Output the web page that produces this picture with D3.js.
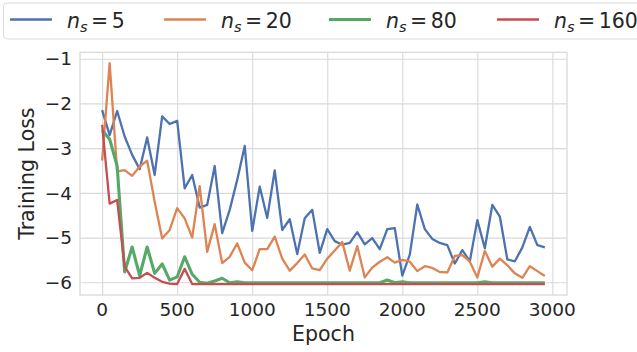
<!DOCTYPE html>
<html>
<head>
<meta charset="utf-8">
<script src="https://cdn.jsdelivr.net/npm/d3@7"></script>
<style>
  body { margin: 0; background: #fff; }
  svg { display: block; font-family: "DejaVu Sans", sans-serif; }
</style>
</head>
<body>
<div id="chart"></div>
<script>
// epochs sampled every 50
var epochs = [0,50,100,150,200,250,300,350,400,450,500,550,600,650,700,750,800,850,900,950,
  1000,1050,1100,1150,1200,1250,1300,1350,1400,1450,1500,1550,1600,1650,1700,1750,1800,1850,1900,1950,
  2000,2050,2100,2150,2200,2250,2300,2350,2400,2450,2500,2550,2600,2650,2700,2750,2800,2850,2900,2950];

var loss_ns5 = [-2.15,-2.71,-2.17,-2.74,-3.15,-3.47,-2.76,-3.60,-2.29,-2.46,
  -2.39,-3.90,-3.60,-4.33,-4.27,-3.40,-4.90,-4.38,-3.71,-2.95,
  -4.85,-3.86,-4.56,-3.50,-4.83,-4.59,-5.37,-4.57,-4.38,-5.34,
  -4.81,-5.08,-5.16,-5.12,-4.88,-5.15,-5.01,-5.26,-4.81,-4.79,
  -5.85,-5.38,-4.26,-4.81,-5.03,-5.12,-5.17,-5.58,-5.28,-5.53,
  -4.61,-5.24,-4.27,-4.53,-5.49,-5.53,-5.22,-4.76,-5.17,-5.22];

var loss_ns20 = [-3.28,-1.10,-3.52,-3.49,-3.62,-3.41,-3.28,-4.20,-5.02,-4.83,
  -4.34,-4.57,-5.00,-3.85,-5.32,-4.70,-5.57,-5.43,-5.13,-5.56,
  -5.73,-5.26,-5.26,-4.98,-5.47,-5.74,-5.57,-5.38,-5.69,-5.73,
  -5.47,-5.29,-5.10,-5.74,-5.19,-5.89,-5.67,-5.54,-5.44,-5.56,
  -5.50,-5.54,-5.75,-5.64,-5.68,-5.77,-5.78,-5.41,-5.39,-5.54,
  -5.89,-5.30,-5.65,-5.47,-5.62,-5.80,-5.90,-5.64,-5.75,-5.86];

var loss_ns80 = [-2.60,-2.80,-3.40,-5.77,-5.21,-5.85,-5.21,-5.80,-5.59,-5.95,
  -5.88,-5.43,-5.82,-6.00,-6.02,-5.97,-5.91,-6.01,-5.99,-6.01,
  -6.01,-6.01,-6.01,-6.01,-6.01,-6.01,-6.01,-6.01,-6.01,-6.01,
  -6.01,-6.01,-6.01,-6.01,-6.01,-6.01,-6.01,-6.01,-5.95,-6.01,
  -5.99,-6.01,-6.01,-6.01,-6.01,-6.01,-6.01,-6.01,-6.01,-6.01,
  -6.01,-5.99,-6.01,-6.01,-6.01,-6.01,-6.01,-6.01,-6.01,-6.01];

var loss_ns160 = [-2.48,-4.24,-4.16,-5.65,-5.91,-5.90,-5.79,-5.90,-5.99,-6.03,
  -6.04,-5.70,-6.04,-6.04,-6.04,-6.04,-6.04,-6.04,-6.04,-6.04,
  -6.04,-6.04,-6.04,-6.04,-6.04,-6.04,-6.04,-6.04,-6.04,-6.04,
  -6.04,-6.04,-6.04,-6.04,-6.04,-6.04,-6.04,-6.04,-6.04,-6.04,
  -6.04,-6.04,-6.04,-6.04,-6.04,-6.04,-6.04,-6.04,-6.04,-6.04,
  -6.04,-6.04,-6.04,-6.04,-6.04,-6.04,-6.04,-6.04,-6.04,-6.04];

var seriesNames = ["5", "20", "80", "160"];
var seriesData = [loss_ns5, loss_ns20, loss_ns80, loss_ns160];
var colors = ["#4c72b0", "#dd8452", "#55a868", "#c44e52"];
var widths = [2.3, 2.3, 3.1, 2.3];

var xTicks = [0, 500, 1000, 1500, 2000, 2500, 3000];
var yTicks = [-1, -2, -3, -4, -5, -6];

function drawChart() {
    var W = 637, H = 352;
    var pLeft = 80, pRight = 567, pTop = 52.3, pBottom = 295;
    var textColor = "#262626", gridColor = "#d9d9d9";

    var svg = d3.select("#chart").append("svg")
        .attr("width", W)
        .attr("height", H);

    var x = d3.scaleLinear().domain([-147.5, 3097.5]).range([pLeft, pRight]);
    var y = d3.scaleLinear().domain([-6.284, -0.857]).range([pBottom, pTop]);

    // grid
    svg.append("g")
       .attr("transform", "translate(0," + pBottom + ")")
       .call(d3.axisBottom(x).tickValues(xTicks).tickSize(-(pBottom - pTop)).tickFormat(""))
       .call(function(g) {
           g.select(".domain").remove();
           g.selectAll("line").attr("stroke", gridColor).attr("stroke-width", 1.1);
       });
    svg.append("g")
       .attr("transform", "translate(" + pLeft + ",0)")
       .call(d3.axisLeft(y).tickValues(yTicks).tickSize(-(pRight - pLeft)).tickFormat(""))
       .call(function(g) {
           g.select(".domain").remove();
           g.selectAll("line").attr("stroke", gridColor).attr("stroke-width", 1.1);
       });

    // frame
    svg.append("rect")
       .attr("x", pLeft).attr("y", pTop)
       .attr("width", pRight - pLeft).attr("height", pBottom - pTop)
       .attr("fill", "none")
       .attr("stroke", gridColor)
       .attr("stroke-width", 1.3);

    // tick labels
    svg.selectAll("text.xt")
       .data(xTicks)
       .enter()
       .append("text")
       .attr("class", "xt")
       .attr("x", function(d) { return x(d); })
       .attr("y", 316)
       .attr("text-anchor", "middle")
       .attr("font-size", 18.5)
       .attr("fill", textColor)
       .text(function(d) { return d; });

    svg.selectAll("text.yt")
       .data(yTicks)
       .enter()
       .append("text")
       .attr("class", "yt")
       .attr("x", 72)
       .attr("y", function(d) { return y(d); })
       .attr("dy", "0.36em")
       .attr("text-anchor", "end")
       .attr("font-size", 18.5)
       .attr("fill", textColor)
       .text(function(d) { return "\u2212" + Math.abs(d); });

    // axis labels
    svg.append("text")
       .attr("x", (pLeft + pRight) / 2)
       .attr("y", 341)
       .attr("text-anchor", "middle")
       .attr("font-size", 20.5)
       .attr("fill", textColor)
       .text("Epoch");

    svg.append("text")
       .attr("transform", "translate(34," + (pTop + pBottom) / 2 + ") rotate(-90)")
       .attr("text-anchor", "middle")
       .attr("font-size", 20.5)
       .attr("fill", textColor)
       .text("Training Loss");

    // lines
    var line = d3.line()
        .x(function(d, i) { return x(epochs[i]); })
        .y(function(d) { return y(d); });

    svg.selectAll("path.series")
       .data(seriesData)
       .enter()
       .append("path")
       .attr("class", "series")
       .attr("fill", "none")
       .attr("stroke", function(d, i) { return colors[i]; })
       .attr("stroke-width", function(d, i) { return widths[i]; })
       .attr("stroke-linejoin", "round")
       .attr("d", line);

    // legend
    var legendX = [10, 164, 329, 497];
    var legend = svg.append("g");
    legend.append("rect")
       .attr("x", 3.5).attr("y", 3)
       .attr("width", 640).attr("height", 36)
       .attr("rx", 4)
       .attr("fill", "#fff").attr("fill-opacity", 0.8)
       .attr("stroke", "#dcdcdc")
       .attr("stroke-width", 1.1);

    var items = legend.selectAll("g.item")
       .data(seriesNames)
       .enter()
       .append("g")
       .attr("class", "item")
       .attr("transform", function(d, i) { return "translate(" + legendX[i] + ",0)"; });

    items.append("line")
       .attr("x1", 0).attr("x2", 42)
       .attr("y1", 19.5).attr("y2", 19.5)
       .attr("stroke", function(d, i) { return colors[i]; })
       .attr("stroke-width", function(d, i) { return widths[i]; });

    var lt = items.append("text")
       .attr("x", 57)
       .attr("y", 28.3)
       .attr("font-size", 20.5)
       .attr("fill", textColor);
    lt.append("tspan").attr("font-style", "italic").text("n");
    lt.append("tspan").attr("font-style", "italic").attr("font-size", 14.5).attr("dy", 3.5).text("s");
    lt.append("tspan").attr("dy", -3.5).attr("dx", 3.5).text("=");
    lt.append("tspan").attr("dx", 3.5).text(function(d) { return d; });
}

drawChart();
</script>
</body>
</html>
